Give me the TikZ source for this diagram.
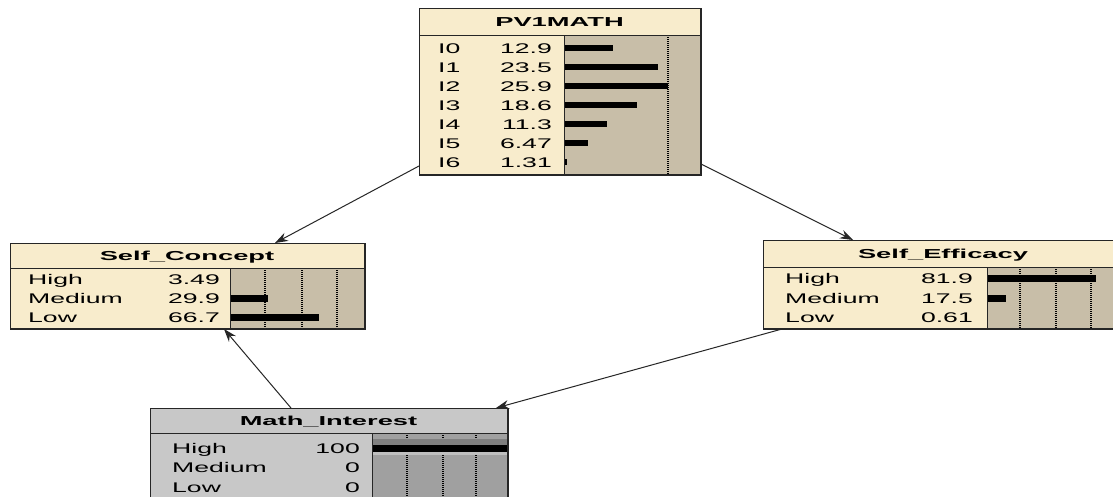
\documentclass[tikz,border=0pt]{standalone}
\usepackage{fontspec}
\setmainfont{Liberation Sans}
\newfontfamily\cellfont[FakeStretch=1.9]{Liberation Sans}
\newfontfamily\headfont[FakeStretch=2.1]{Liberation Sans}
\usetikzlibrary{arrows.meta}
\definecolor{cream}{HTML}{F8ECCC}
\definecolor{barbg}{HTML}{C8BEA8}
\definecolor{greybox}{HTML}{C8C8C8}
\definecolor{greybar}{HTML}{A0A0A0}
\tikzset{
  netbox/.style={draw=black!85, line width=1pt, anchor=north west, inner sep=0pt},
  rule/.style={draw=black!85, line width=1pt},
  grid/.style={draw=black, line width=1.1pt, dash pattern=on 1pt off 1pt},
  cell/.style={font=\cellfont\fontsize{14}{14}\selectfont, inner sep=0pt,
               text height=10pt, text depth=0pt},
  head/.style={font=\headfont\bfseries\fontsize{13}{13}\selectfont, inner sep=0pt,
               text height=9.5pt, text depth=0pt},
  link/.style={draw=black!85, line width=1pt, -{Stealth[length=13pt,width=9pt]}}
}
\begin{document}
\begin{tikzpicture}[x=1pt,y=-1pt]
\clip (0,0) rectangle (1113,496);
\fill[white] (0,0) rectangle (1113,496);

% ---------- PV1MATH ----------
\node[netbox, fill=cream, minimum width=281pt, minimum height=166pt] (pv) at (419,8) {};
\fill[barbg] (564,35) rectangle (700,174);
\draw[grid] (668,35) -- (668,174);
\foreach \y/\len in {48/49, 67/94, 86/104, 105/73, 124/43, 143/24, 162/3}
  \fill[black] (564,\y-3) rectangle ++(\len,6);
\draw[rule] (419,35) -- (700,35);
\draw[rule] (564,35) -- (564,174);
\draw[rule] (pv.north west) rectangle (pv.south east);
\node[head] (pvt) at (559.5,22) {PV1MATH};
\foreach \y/\s/\v [count=\i] in {48/I0/12.9, 67/I1/23.5, 86/I2/25.9, 105/I3/18.6,
                                  124/I4/11.3, 143/I5/6.47, 162/I6/1.31} {
  \node[cell, anchor=west] (pvs\i) at (438,\y) {\s};
  \node[cell, anchor=east] (pvv\i) at (552,\y) {\v};
}

% ---------- Self_Concept ----------
\node[netbox, fill=cream, minimum width=354pt, minimum height=85pt] (sc) at (10,243) {};
\fill[barbg] (230,268) rectangle (364,328);
\foreach \x in {265,302,337} \draw[grid] (\x,268) -- (\x,328);
\foreach \y/\len in {298/38, 317/89}
  \fill[black] (230,\y-3.5) rectangle ++(\len,7);
\draw[rule] (10,268) -- (364,268);
\draw[rule] (230,268) -- (230,328);
\draw[rule] (sc.north west) rectangle (sc.south east);
\node[head] (sct) at (187,255.5) {Self\_Concept};
\foreach \y/\s/\v [count=\i] in {279/High/3.49, 298/Medium/29.9, 317/Low/66.7} {
  \node[cell, anchor=west] (scs\i) at (28,\y) {\s};
  \node[cell, anchor=east] (scv\i) at (220,\y) {\v};
}

% ---------- Self_Efficacy ----------
\node[netbox, fill=cream, minimum width=360pt, minimum height=88pt] (se) at (763,240) {};
\fill[barbg] (987,267) rectangle (1123,328);
\foreach \x in {1020,1056,1091} \draw[grid] (\x,267) -- (\x,328);
\foreach \y/\len in {278/109, 298/19}
  \fill[black] (987,\y-3.5) rectangle ++(\len,7);
\draw[rule] (763,267) -- (1123,267);
\draw[rule] (987,267) -- (987,328);
\draw[rule] (se.north west) rectangle (se.south east);
\node[head] (set) at (943,253.5) {Self\_Efficacy};
\foreach \y/\s/\v [count=\i] in {278/High/81.9, 298/Medium/17.5, 317/Low/0.61} {
  \node[cell, anchor=west] (ses\i) at (785,\y) {\s};
  \node[cell, anchor=east] (sev\i) at (973,\y) {\v};
}

% ---------- Math_Interest ----------
\node[netbox, fill=greybox, minimum width=357pt, minimum height=91pt] (mi) at (150,408) {};
\fill[greybar] (372,433) rectangle (507,499);
\foreach \x in {407,443,476} \draw[grid] (\x,433) -- (\x,499);
\fill[black!50] (372,439) rectangle (507,445);
\fill[black] (372,445) rectangle (507,452);
\fill[black!25] (372,452) rectangle (507,455);
\draw[rule] (150,433) -- (507,433);
\draw[rule] (372,433) -- (372,499);
\draw[rule] (mi.north west) rectangle (mi.south east);
\node[head] (mit) at (328.5,420.5) {Math\_Interest};
\foreach \y/\s/\v [count=\i] in {448/High/100, 467/Medium/0, 487/Low/0} {
  \node[cell, anchor=west] (mis\i) at (172,\y) {\s};
  \node[cell, anchor=east] (miv\i) at (360,\y) {\v};
}

% ---------- links ----------
\coordinate (pvL) at ([yshift=9pt]pv.south west);
\coordinate (pvR) at ([yshift=11pt]pv.south east);
\coordinate (scTop) at ([xshift=265pt]sc.north west);
\coordinate (scBot) at ([xshift=214pt]sc.south west);
\coordinate (seTop) at ([xshift=90pt]se.north west);
\coordinate (seBot) at ([xshift=19pt]se.south west);
\coordinate (miTopL) at ([xshift=141pt]mi.north west);
\coordinate (miTopR) at ([xshift=-12pt]mi.north east);
\draw[link] (pvL) -- (scTop);
\draw[link] (pvR) -- (seTop);
\draw[link] (miTopL) -- (scBot);
\draw[link] (seBot) -- (miTopR);
\end{tikzpicture}
\end{document}
